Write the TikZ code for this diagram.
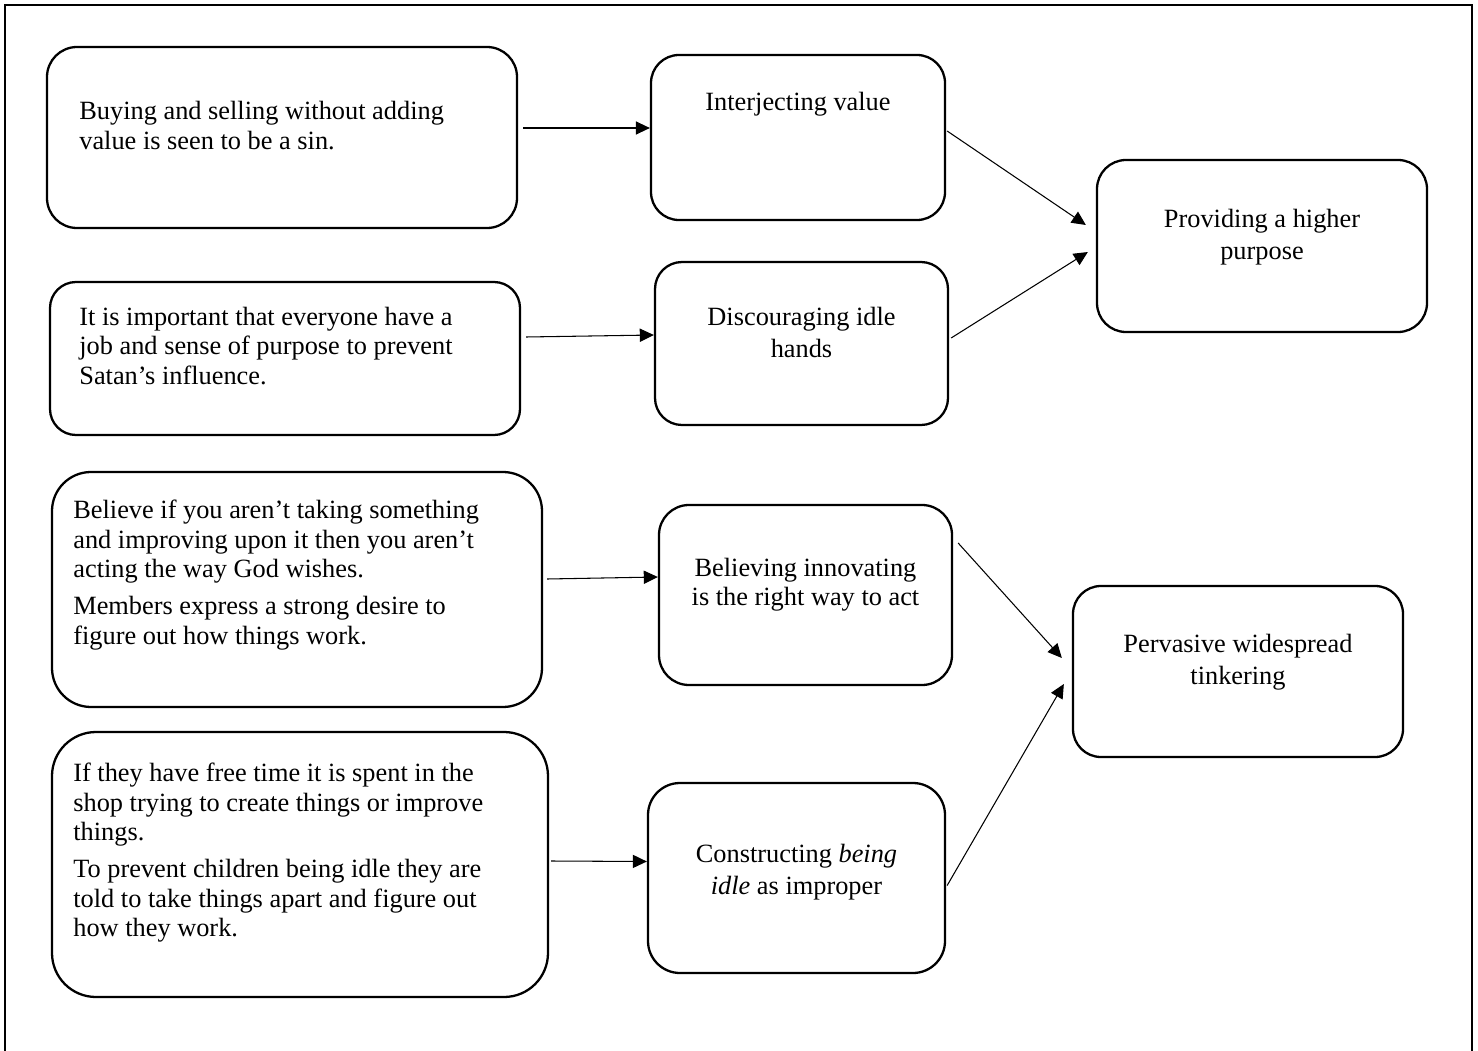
\documentclass[tikz,border=0pt]{standalone}
\usepackage{fontspec}
\setmainfont{Liberation Serif}
\usetikzlibrary{arrows.meta,calc}
\newdimen\px
\px=0.02cm

\begin{document}
\begin{tikzpicture}[x=0.02cm,y=-0.02cm,
        box/.style={draw, line width=1.3pt, rounded corners=#1, inner sep=0pt},
        txt/.style={inner sep=0pt, align=left, anchor=north west, font=\fontsize{15}{16.9}\selectfont},
        ctxt/.style={inner sep=0pt, align=center, anchor=north, font=\fontsize{15}{18.6}\selectfont},
        arr/.style={-{Triangle[length=8pt,width=7.5pt]}, line width=0.6pt}]
                \useasboundingbox (0,0) rectangle (1478,1051);
                \draw[line width=0.9pt] (5,1051) -- (5,5) -- (1472,5) -- (1472,1051);
                % left column
                \node[box=30\px, minimum width=470\px, minimum height=181\px] (buying) at (282,137.5) {};
                \node[box=26\px, minimum width=470\px, minimum height=153\px] (important) at (285,358.5) {};
                \node[box=39\px, minimum width=490\px, minimum height=235\px] (believe) at (297,589.5) {};
                \node[box=44\px, minimum width=496\px, minimum height=265\px] (freetime) at (300,864.5) {};
                \node[txt] (buyingtxt) at (79,101) {Buying and selling without adding\\value is seen to be a sin.};
                \node[txt] (importanttxt) at (79,306.5) {It is important that everyone have a\\job and sense of purpose to prevent\\Satan’s influence.};
                \node[txt] (believetxt) at (73,499.5) {Believe if you aren’t taking something\\and improving upon it then you aren’t\\acting the way God wishes.\\[4pt]Members express a strong desire to\\figure out how things work.};
                \node[txt] (freetimetxt) at (73,762.5) {If they have free time it is spent in the\\shop trying to create things or improve\\things.\\[4pt]To prevent children being idle they are\\told to take things apart and figure out\\how they work.};
                % middle column
                \node[box=28\px, minimum width=294\px, minimum height=165\px] (interj) at (798,137.5) {};
                \node[box=27\px, minimum width=293\px, minimum height=163\px] (discour) at (801.5,343.5) {};
                \node[box=30\px, minimum width=293\px, minimum height=180\px] (innov) at (805.5,595) {};
                \node[box=32\px, minimum width=297\px, minimum height=190\px] (constr) at (796.5,878) {};
                \node[ctxt] (interjtxt) at (798,91.5) {Interjecting value};
                \node[ctxt] (discourtxt) at (801.5,306.5) {Discouraging idle\\hands};
                \node[ctxt, font=\fontsize{15}{16.5}\selectfont] (innovtxt) at (805.5,557.5) {Believing innovating\\is the right way to act};
                \node[ctxt] (constrtxt) at (796.5,843.5) {Constructing \textit{being}\\\textit{idle} as improper};
                % right column
                \node[box=29\px, minimum width=330\px, minimum height=172\px] (purpose) at (1262,246) {};
                \node[box=28\px, minimum width=330\px, minimum height=171\px] (tinker) at (1238,671.5) {};
                \node[ctxt] (purposetxt) at (1262,208.5) {Providing a higher\\purpose};
                \node[ctxt] (tinkertxt) at (1238,633.5) {Pervasive widespread\\tinkering};
                % arrows
                \draw[arr] ($(buying.east)+(5,-9.5)$) -- ($(interj.west)+(0,-9.5)$);
                \draw[arr] ($(important.east)+(5,-21.5)$) -- ($(discour.west)+(0,-8.5)$);
                \draw[arr] ($(believe.east)+(4,-10.5)$) -- ($(innov.west)+(0,-18)$);
                \draw[arr] ($(freetime.east)+(2,-3.5)$) -- ($(constr.west)+(0,-16.5)$);
                \draw[arr] ($(interj.east)+(1,-6.5)$) -- ($(purpose.west)+(-10,-21)$);
                \draw[arr] ($(discour.east)+(2,-5.5)$) -- ($(purpose.west)+(-8,6)$);
                \draw[arr] ($(innov.east)+(5,-52)$) -- ($(tinker.west)+(-10,-13.5)$);
                \draw[arr] ($(constr.east)+(1,7.5)$) -- ($(tinker.west)+(-8,12.5)$);
        \end{tikzpicture}
\end{document}
